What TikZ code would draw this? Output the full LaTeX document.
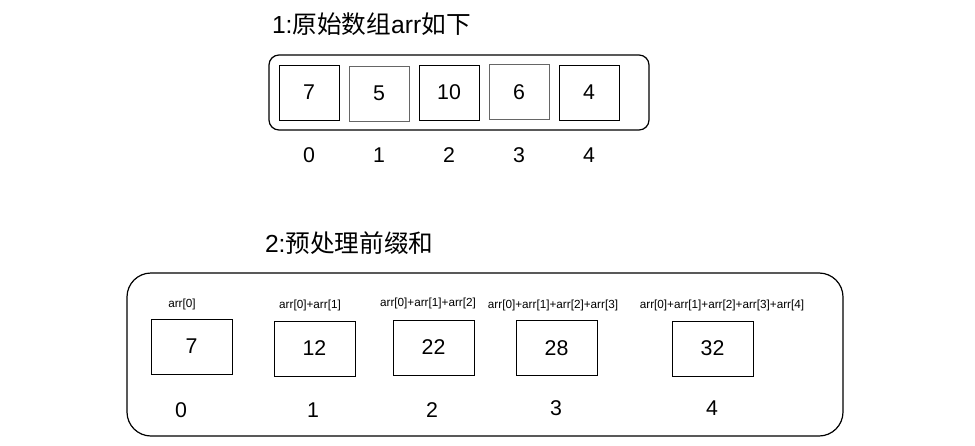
\documentclass[tikz,border=0pt]{standalone}
\usepackage{fontspec}
\setmainfont{Liberation Sans}
\newfontfamily\cjk{Noto Sans CJK SC}
\begin{document}
\begin{tikzpicture}[x=0.75pt,y=-0.75pt,
  every node/.style={inner sep=0pt,outer sep=0pt},
  container/.style={draw=black,line width=0.9pt},
  cell/.style={draw=black,line width=0.75pt,minimum width=45pt,minimum height=41.25pt,font=\fontsize{16}{19}\selectfont},
  bigcell/.style={draw=black,line width=0.75pt,minimum width=60.75pt,minimum height=41.25pt,font=\fontsize{16}{19}\selectfont},
  graycell/.style={cell,draw=black!60},
  idx/.style={font=\fontsize{16}{19}\selectfont},
  sumlbl/.style={font=\fontsize{8.8}{10}\selectfont},
  title/.style={font=\fontsize{18.5}{22}\selectfont,anchor=west}]
\useasboundingbox (0,0) rectangle (975,446);
% top part
\node[title] (t1) at (272,24) {1:{\cjk 原始数组}arr{\cjk 如下}};
\draw[container,rounded corners=7.5pt] (269,55) rectangle (649,130);
\node[cell] (a0) at (309,92.5) {7};
\node[graycell] (a1) at (379,93.5) {5};
\node[cell] (a2) at (449,92.5) {10};
\node[graycell] (a3) at (519,92) {6};
\node[cell] (a4) at (589,92.5) {4};
\node[idx] (i0) at (309,155) {0};
\node[idx] (i1) at (379,155) {1};
\node[idx] (i2) at (449,155) {2};
\node[idx] (i3) at (519,155) {3};
\node[idx] (i4) at (589,155) {4};
% bottom part
\node[title] (t2) at (265,243) {2:{\cjk 预处理前缀和}};
\draw[container,rounded corners=18pt] (127,273) rectangle (843,436);
\node[bigcell] (b0) at (191.5,346.5) {7};
\node[bigcell] (b1) at (314.5,348.5) {12};
\node[bigcell] (b2) at (433.5,347.5) {22};
\node[bigcell] (b3) at (556.5,348) {28};
\node[bigcell] (b4) at (712.5,348.5) {32};
\node[sumlbl] (s0) at (182,304) {arr[0]};
\node[sumlbl] (s1) at (310,305) {arr[0]+arr[1]};
\node[sumlbl] (s2) at (428,303) {arr[0]+arr[1]+arr[2]};
\node[sumlbl] (s3) at (553,305) {arr[0]+arr[1]+arr[2]+arr[3]};
\node[sumlbl] (s4) at (722,305) {arr[0]+arr[1]+arr[2]+arr[3]+arr[4]};
\node[idx] (j0) at (181,410) {0};
\node[idx] (j1) at (313,410) {1};
\node[idx] (j2) at (432,410) {2};
\node[idx] (j3) at (556,408) {3};
\node[idx] (j4) at (712,408) {4};
\end{tikzpicture}
\end{document}
